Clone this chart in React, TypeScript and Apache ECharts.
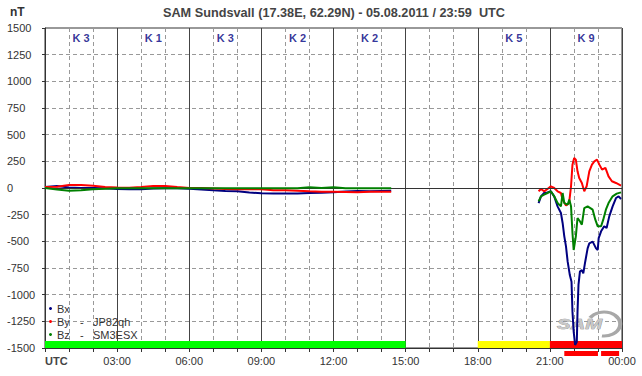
import React, { useEffect, useRef } from "react";
import * as echarts from "echarts";

const TITLE = "SAM Sundsvall (17.38E, 62.29N) - 05.08.2011 / 23:59  UTC";
const UNIT = "nT";
const xTickLabels = ["UTC", "03:00", "06:00", "09:00", "12:00", "15:00", "18:00", "21:00", "00:00"];

const seriesNames = ["Bx", "By", "Bz"];
const legendStations = ["", "JP82qh", "SM3ESX"];
const seriesColors = ["#000080", "#ff0000", "#008000"];

// quiet period (hours UTC)
const quietTimes = [0, 0.5, 1, 1.5, 2, 2.5, 3, 3.5, 4, 4.5, 5, 5.5, 6, 6.5, 7, 7.5, 8, 8.5, 9, 9.5, 10, 10.5, 11, 11.5, 12, 12.5, 13, 13.5, 14, 14.4];
const bxQuiet = [10, 19, 5, 0, 0, -3, -10, -12, -12, -5, -3, -3, -8, -15, -22, -28, -31, -42, -50, -52, -52, -52, -48, -44, -40, -32, -28, -30, -27, -25];
const byQuiet = [10, 12, 28, 28, 22, 9, 5, 3, 10, 19, 19, 9, 0, 0, -5, -10, -12, -12, -12, -20, -22, -25, -30, -34, -35, -37, -40, -35, -34, -34];
const bzQuiet = [0, -15, -25, -22, -12, -6, -3, -3, -3, -3, -3, -3, -3, -3, -3, -3, -3, -3, -3, -3, -3, -3, 6, 0, 8, -3, -3, -3, -3, -3];

// storm period
const bxStormTimes = [20.53, 20.63, 20.76, 20.9, 21.04, 21.18, 21.32, 21.46, 21.53, 21.6, 21.67, 21.74, 21.83, 21.9, 21.94, 21.99, 22.05, 22.12, 22.15, 22.19, 22.25, 22.33, 22.39, 22.47, 22.57, 22.64, 22.78, 22.92, 22.99, 23.03, 23.13, 23.26, 23.36, 23.47, 23.61, 23.75, 23.86, 23.96];
const bxStorm = [-141, -78, -47, -41, -31, -78, -172, -234, -328, -453, -547, -691, -816, -878, -1159, -1347, -1472, -1441, -1159, -909, -784, -769, -800, -691, -566, -519, -503, -566, -581, -470, -406, -359, -375, -266, -172, -94, -78, -103];
const byStormTimes = [20.53, 20.63, 20.76, 20.9, 21.04, 21.18, 21.32, 21.46, 21.53, 21.67, 21.8, 21.88, 21.94, 22.01, 22.08, 22.15, 22.22, 22.33, 22.43, 22.53, 22.64, 22.75, 22.85, 22.96, 23.06, 23.17, 23.31, 23.44, 23.58, 23.75, 23.96];
const byStorm = [-31, -9, -31, -9, 16, 0, -31, -47, -109, -165, -140, 16, 219, 281, 266, 156, 94, 47, -31, 16, 156, 219, 250, 266, 219, 172, 188, 109, 63, 47, 22];
const bzStormTimes = [20.53, 20.63, 20.76, 20.9, 21.04, 21.18, 21.32, 21.46, 21.53, 21.6, 21.74, 21.81, 21.88, 21.94, 21.99, 22.08, 22.15, 22.25, 22.33, 22.43, 22.57, 22.78, 22.89, 22.99, 23.13, 23.22, 23.33, 23.44, 23.61, 23.78, 23.96];
const bzStorm = [-125, -78, -63, -47, -31, -78, -141, -172, -47, -141, -156, -109, -172, -422, -581, -453, -281, -312, -344, -188, -172, -203, -297, -359, -359, -297, -203, -141, -78, -53, -41];

// K indices
const kTimes = [1.5, 4.5, 7.5, 10.5, 13.5, 19.5, 22.5];
const kValues = [3, 1, 3, 2, 2, 5, 9];

// activity bars
const activityStart = [0, 18, 21];
const activityEnd = [15, 21, 24];
const activityColors = ["#00ff00", "#ffff00", "#ff0000"];

// alert bars below axis
const alertStart = [21.6, 23.13];
const alertEnd = [23.0, 23.88];

const FONT = "'Liberation Sans', Arial, sans-serif";

function build(qt: number[], qv: number[], st: number[], sv: number[]) {
  const d: any[] = qt.map((t, i) => [t, qv[i]]);
  d.push([17, null]);
  st.forEach((t, i) => d.push([t, sv[i]]));
  return d;
}

export default function App() {
  const ref = useRef<HTMLDivElement>(null);
  useEffect(() => {
    if (!ref.current) return;
    const chart = echarts.init(ref.current, null, { renderer: "svg" });
    const data = [
      build(quietTimes, bxQuiet, bxStormTimes, bxStorm),
      build(quietTimes, byQuiet, byStormTimes, byStorm),
      build(quietTimes, bzQuiet, bzStormTimes, bzStorm),
    ];
    const lineSeries = seriesNames.map((n, i) => ({
      name: n,
      type: "line",
      data: data[i],
      showSymbol: false,
      symbol: "circle",
      connectNulls: false,
      color: seriesColors[i],
      lineStyle: { width: 2, color: seriesColors[i] },
      z: 3 + i,
      markLine:
        i === 0
          ? {
              silent: true,
              symbol: "none",
              label: { show: false },
              lineStyle: { type: "solid", color: "#333", width: 1 },
              data: [{ yAxis: 0 }],
            }
          : undefined,
    }));

    chart.setOption({
      animation: false,
      backgroundColor: "#fff",
      textStyle: { fontFamily: FONT },
      title: {
        text: TITLE,
        left: 334,
        top: 6,
        padding: 0,
        textAlign: "center",
        textStyle: { fontSize: 12.7, fontWeight: "bold", color: "#444", fontFamily: FONT },
      },
      grid: {
        left: 45,
        right: 20,
        top: 28,
        bottom: 28,
        show: true,
        borderColor: "#333",
        borderWidth: 1,
        backgroundColor: "transparent",
      },
      legend: {
        data: seriesNames,
        orient: "vertical",
        left: 49,
        top: 302,
        padding: 0,
        itemGap: 0,
        itemWidth: 3,
        itemHeight: 3,
        icon: "circle",
        selectedMode: false,
        formatter: (name: string) => {
          const i = seriesNames.indexOf(name);
          if (!legendStations[i]) return `{a|${name}}`;
          return `{a|${name}}{b|-}{c|${legendStations[i]}}`;
        },
        textStyle: {
          fontSize: 11,
          color: "#333",
          lineHeight: 13,
          fontFamily: FONT,
          rich: {
            a: { width: 23, fontSize: 11, color: "#333", fontFamily: FONT },
            b: { width: 13, fontSize: 11, color: "#333", fontFamily: FONT },
            c: { fontSize: 11, color: "#333", fontFamily: FONT },
          },
        },
      },
      xAxis: {
        type: "value",
        min: 0,
        max: 24,
        interval: 3,
        axisLine: { show: true, onZero: false, lineStyle: { color: "#333" } },
        axisTick: { show: true, length: 4, lineStyle: { color: "#333" } },
        minorTick: { show: true, splitNumber: 3, length: 4, lineStyle: { color: "#333" } },
        splitLine: { show: true, lineStyle: { color: "#444", width: 1 } },
        minorSplitLine: { show: true, lineStyle: { color: "#999", type: [4, 3], width: 1 } },
        axisLabel: {
          fontSize: 11,
          color: "#333",
          margin: 7,
          fontFamily: FONT,
          showMinLabel: true,
          showMaxLabel: true,
          alignMinLabel: "left",
          formatter: (v: number) => {
            const idx = Math.round(v / 3);
            return idx === 0 ? `{u|${xTickLabels[0]}}` : xTickLabels[idx];
          },
          rich: { u: { fontWeight: "bold", fontSize: 11, color: "#444", fontFamily: FONT } },
        },
      },
      yAxis: {
        type: "value",
        min: -1500,
        max: 1500,
        interval: 250,
        axisLine: { show: true, onZero: false, lineStyle: { color: "#333" } },
        axisTick: { show: true, length: 3, lineStyle: { color: "#333" } },
        splitLine: { show: true, lineStyle: { color: "#999", type: [4, 3], width: 1 } },
        axisLabel: {
          fontSize: 11,
          color: "#333",
          align: "left",
          margin: 38,
          fontFamily: FONT,
          formatter: (v: number) => String(v),
        },
      },
      graphic: [
        {
          type: "text",
          left: 10,
          top: 6,
          z: 1,
          style: { text: UNIT, font: `bold 12px ${FONT}`, fill: "#333" },
        },
        {
          type: "group",
          x: 604,
          y: 324,
          scaleX: 1.35,
          z: 1,
          children: [
            {
              type: "arc",
              z: 1,
              shape: { cx: 0, cy: 0, r: 12, startAngle: -2.6, endAngle: 1.7, clockwise: true },
              style: { stroke: "#a8a8a8", lineWidth: 3, fill: null },
            },
          ],
        },
        {
          type: "text",
          x: 557,
          y: 317,
          scaleX: 1.45,
          z: 2,
          style: {
            text: "SAM",
            font: `italic bold 14px ${FONT}`,
            fill: "#c8c8c8",
            stroke: "#777777",
            lineWidth: 0.5,
          },
        },
      ],
      series: [
        {
          name: "activity",
          type: "custom",
          z: 1,
          silent: true,
          encode: { x: [0, 1] },
          data: activityStart.map((s, i) => [s, activityEnd[i]]),
          renderItem: (params: any, api: any) => {
            const p0 = api.coord([api.value(0), -1500]);
            const p1 = api.coord([api.value(1), -1435]);
            return {
              type: "rect",
              shape: { x: p0[0], y: p1[1], width: p1[0] - p0[0], height: p0[1] - p1[1] },
              style: { fill: activityColors[params.dataIndex] },
            };
          },
        },
        {
          name: "alerts",
          type: "custom",
          z: 1,
          silent: true,
          clip: false,
          encode: { x: [0, 1] },
          data: alertStart.map((s, i) => [s, alertEnd[i]]),
          renderItem: (_params: any, api: any) => {
            const p0 = api.coord([api.value(0), -1500]);
            const p1 = api.coord([api.value(1), -1500]);
            return {
              type: "rect",
              shape: { x: p0[0], y: p0[1] + 3, width: p1[0] - p0[0], height: 5 },
              style: { fill: "#ff0000" },
            };
          },
        },
        ...lineSeries,
        {
          name: "K",
          type: "scatter",
          silent: true,
          symbolSize: 1,
          itemStyle: { color: "transparent" },
          data: kTimes.map((t, i) => [t, 1410, kValues[i]]),
          label: {
            show: true,
            position: "inside",
            formatter: (p: any) => `K ${p.value[2]}`,
            color: "#000080",
            fontWeight: "bold",
            fontSize: 11,
            fontFamily: FONT,
          },
        },
      ],
    });
    return () => chart.dispose();
  }, []);
  return <div ref={ref} style={{ width: 642, height: 376, position: "absolute", left: 0, top: 0 }} />;
}
